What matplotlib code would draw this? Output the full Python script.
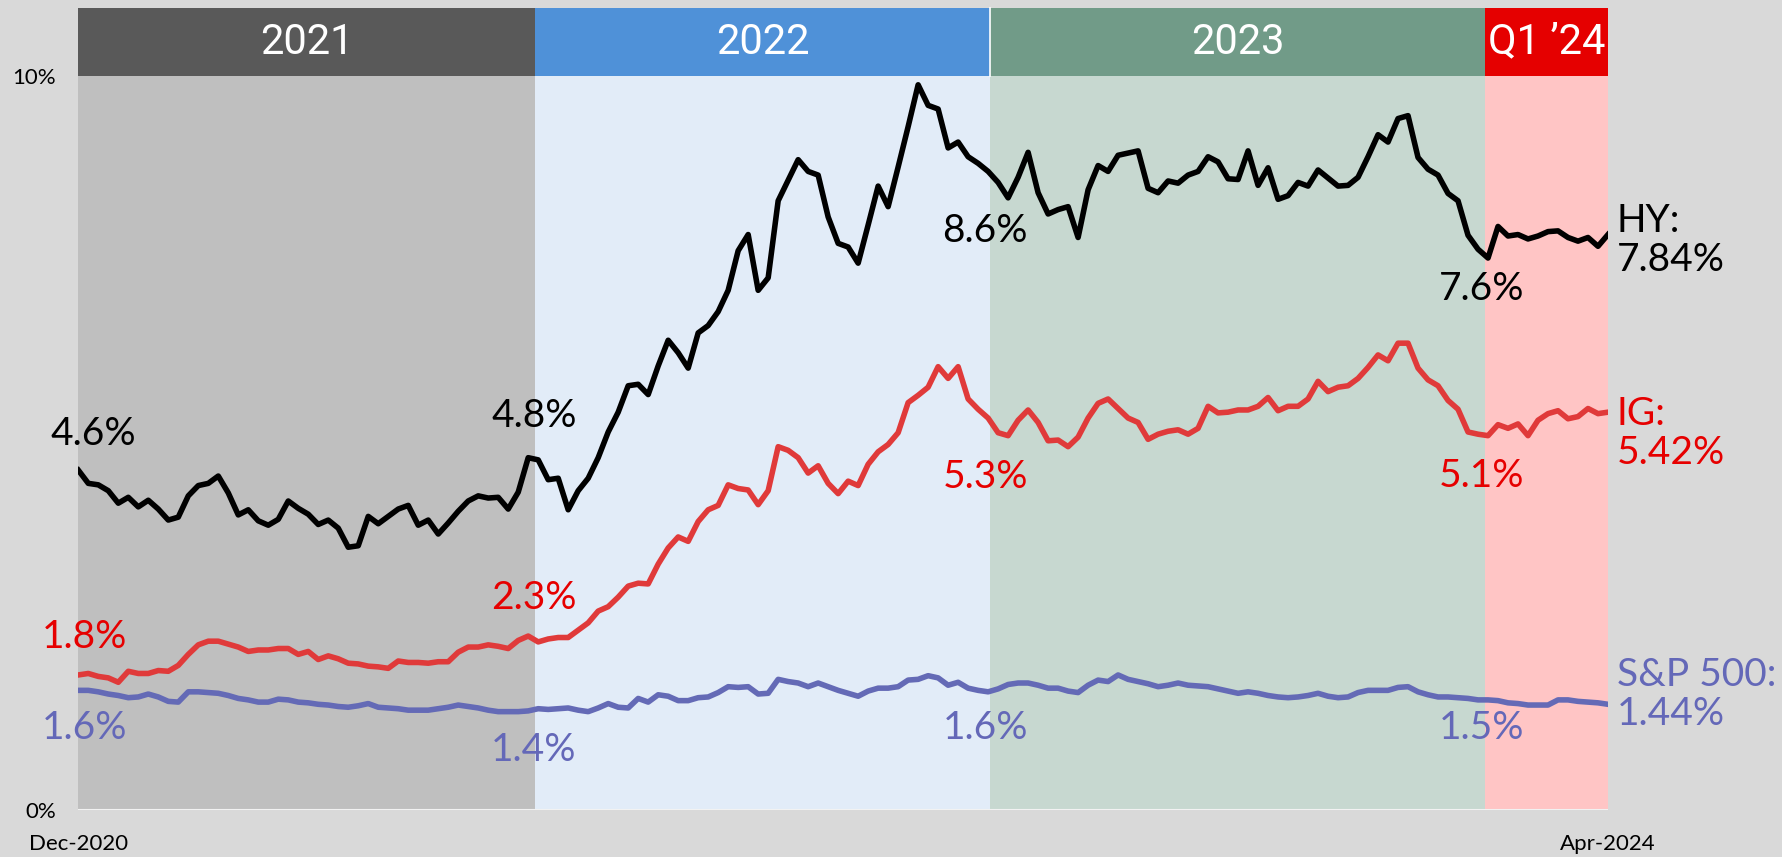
import pandas as pd
import matplotlib
matplotlib.use('Agg')
import matplotlib.pyplot as plt

plt.rcParams['font.family'] = ['Lato', 'DejaVu Sans']

# 주간(약 8일 간격) 데이터: Dec-2020 ~ Apr-2024
dates = pd.date_range('2020-12-31', '2024-04-10', periods=154)

# HY 수익률 (%)
hy = [4.63, 4.45, 4.43, 4.35, 4.18, 4.26, 4.13, 4.22, 4.10, 3.95,
      3.99, 4.28, 4.42, 4.45, 4.55, 4.32, 4.02, 4.09, 3.94, 3.88,
      3.96, 4.21, 4.11, 4.03, 3.89, 3.95, 3.84, 3.58, 3.60, 4.00,
      3.90, 4.00, 4.10, 4.15, 3.88, 3.95, 3.76, 3.91, 4.07, 4.21,
      4.28, 4.25, 4.26, 4.10, 4.33, 4.80, 4.77, 4.50, 4.52, 4.09,
      4.35, 4.52, 4.80, 5.15, 5.42, 5.78, 5.80, 5.66, 6.05, 6.40,
      6.23, 6.02, 6.50, 6.60, 6.79, 7.08, 7.62, 7.84, 7.08, 7.25,
      8.30, 8.58, 8.86, 8.70, 8.65, 8.08, 7.72, 7.67, 7.45, 7.97,
      8.50, 8.22, 8.76, 9.31, 9.88, 9.60, 9.55, 9.02, 9.10, 8.90,
      8.81, 8.70, 8.55, 8.34, 8.62, 8.96, 8.41, 8.12, 8.18, 8.22,
      7.80, 8.45, 8.78, 8.70, 8.92, 8.95, 8.98, 8.47, 8.41, 8.57,
      8.54, 8.65, 8.70, 8.90, 8.83, 8.60, 8.59, 8.98, 8.51, 8.75,
      8.32, 8.37, 8.55, 8.50, 8.72, 8.61, 8.50, 8.51, 8.62, 8.90,
      9.20, 9.10, 9.42, 9.46, 8.89, 8.73, 8.65, 8.40, 8.30, 7.83,
      7.64, 7.52, 7.95, 7.82, 7.84, 7.78, 7.82, 7.88, 7.89, 7.80,
      7.75, 7.80, 7.68, 7.84]

# IG 수익률 (%)
ig = [1.84, 1.86, 1.82, 1.80, 1.74, 1.89, 1.86, 1.86, 1.90, 1.89,
      1.97, 2.12, 2.25, 2.30, 2.30, 2.26, 2.22, 2.16, 2.18, 2.18,
      2.20, 2.20, 2.12, 2.16, 2.05, 2.10, 2.06, 2.00, 1.99, 1.96,
      1.95, 1.93, 2.03, 2.01, 2.01, 2.00, 2.02, 2.02, 2.15, 2.22,
      2.22, 2.25, 2.23, 2.20, 2.31, 2.37, 2.29, 2.33, 2.35, 2.35,
      2.45, 2.55, 2.71, 2.77, 2.90, 3.05, 3.09, 3.08, 3.35, 3.57,
      3.72, 3.66, 3.93, 4.09, 4.15, 4.43, 4.38, 4.36, 4.16, 4.35,
      4.95, 4.90, 4.80, 4.59, 4.69, 4.45, 4.31, 4.48, 4.42, 4.71,
      4.88, 4.98, 5.14, 5.55, 5.65, 5.76, 6.04, 5.88, 6.04, 5.60,
      5.46, 5.34, 5.14, 5.10, 5.31, 5.45, 5.28, 5.03, 5.04, 4.95,
      5.08, 5.34, 5.54, 5.60, 5.47, 5.34, 5.28, 5.05, 5.12, 5.16,
      5.18, 5.12, 5.20, 5.50, 5.41, 5.42, 5.45, 5.45, 5.50, 5.62,
      5.44, 5.50, 5.50, 5.60, 5.84, 5.70, 5.76, 5.78, 5.88, 6.03,
      6.20, 6.12, 6.36, 6.36, 6.02, 5.86, 5.78, 5.58, 5.46, 5.15,
      5.12, 5.10, 5.25, 5.20, 5.26, 5.10, 5.31, 5.40, 5.44, 5.33,
      5.36, 5.47, 5.40, 5.42]

# S&P 500 배당수익률 (%)
sp = [1.63, 1.63, 1.61, 1.58, 1.56, 1.53, 1.54, 1.58, 1.54, 1.48,
      1.47, 1.61, 1.61, 1.60, 1.59, 1.56, 1.52, 1.50, 1.47, 1.47,
      1.51, 1.50, 1.47, 1.46, 1.44, 1.43, 1.41, 1.40, 1.42, 1.45,
      1.40, 1.39, 1.38, 1.36, 1.36, 1.36, 1.38, 1.40, 1.43, 1.41,
      1.39, 1.36, 1.34, 1.34, 1.34, 1.35, 1.38, 1.37, 1.38, 1.39,
      1.36, 1.34, 1.39, 1.45, 1.40, 1.39, 1.52, 1.47, 1.57, 1.55,
      1.49, 1.49, 1.53, 1.54, 1.60, 1.68, 1.67, 1.68, 1.58, 1.59,
      1.78, 1.75, 1.73, 1.68, 1.73, 1.68, 1.63, 1.59, 1.55, 1.62,
      1.66, 1.66, 1.68, 1.77, 1.78, 1.83, 1.80, 1.70, 1.74, 1.66,
      1.63, 1.61, 1.65, 1.71, 1.73, 1.73, 1.70, 1.66, 1.66, 1.62,
      1.60, 1.70, 1.77, 1.75, 1.84, 1.78, 1.75, 1.72, 1.68, 1.70,
      1.73, 1.70, 1.69, 1.68, 1.65, 1.62, 1.59, 1.61, 1.59, 1.56,
      1.54, 1.53, 1.54, 1.56, 1.59, 1.55, 1.53, 1.54, 1.60, 1.63,
      1.63, 1.63, 1.67, 1.68, 1.61, 1.57, 1.54, 1.54, 1.53, 1.52,
      1.50, 1.50, 1.49, 1.46, 1.45, 1.43, 1.43, 1.43, 1.50, 1.50,
      1.48, 1.47, 1.46, 1.44]

# 기간 구분
periods = ['2021', '2022', '2023', 'Q1 \u201924']
period_edges = pd.to_datetime(['2020-12-31', '2021-12-23', '2022-12-14',
                               '2024-01-05', '2024-04-10'])
band_colors = ['#BFBFBF', '#E2ECF8', '#C7D8D0', '#FFC5C5']
header_colors = ['#595959', '#4F91D8', '#719B88', '#E50000']

# 기간 경계의 수익률 표시
hy_marks = ['4.6%', '4.8%', '8.6%', '7.6%']
ig_marks = ['1.8%', '2.3%', '5.3%', '5.1%']
sp_marks = ['1.6%', '1.4%', '1.6%', '1.5%']

end_labels = ['HY:\n7.84%', 'IG:\n5.42%', 'S&P 500:\n1.44%']

BG = '#D9D9D9'
HY_C, IG_C, SP_C = '#000000', '#E03A3A', '#646AB6'
IG_T, SP_T = '#E60000', '#6468B8'

fig = plt.figure(figsize=(17.83, 8.57), dpi=100, facecolor=BG)
ax = fig.add_axes([78.3 / 1783, 47 / 857, 1529.7 / 1783, 734 / 857])
ax.set_facecolor(BG)

for i, name in enumerate(periods):
    a, b = period_edges[i], period_edges[i + 1]
    ax.axvspan(a, b, color=band_colors[i], lw=0, zorder=0)
    hdr = ax.axvspan(a, b, ymin=1.0, ymax=1.0926, color=header_colors[i],
                     lw=0, zorder=0)
    hdr.set_clip_on(False)
    mid = a + (b - a) / 2
    ax.text(mid, 1.046, name, transform=ax.get_xaxis_transform(),
            ha='center', va='center', color='white', fontsize=30,
            family=['Roboto', 'DejaVu Sans'])

# 2022/2023 헤더 사이 흰 구분선
sep = ax.axvline(period_edges[2], ymin=1.0, ymax=1.0926, color='white', lw=1.2)
sep.set_clip_on(False)

ax.axhline(0, color='#F2F2F2', lw=1.5, zorder=1)

ax.plot(dates, sp, color=SP_C, lw=4.0, zorder=3, solid_joinstyle='round')
ax.plot(dates, ig, color=IG_C, lw=4.0, zorder=3, solid_joinstyle='round')
ax.plot(dates, hy, color=HY_C, lw=4.0, zorder=4, solid_joinstyle='round')

ax.set_xlim(dates[0], dates[-1])
ax.set_ylim(0, 10)

# 경계 라벨
hy_y = [5.12, 5.37, 7.89, 7.10]
ig_y = [2.36, 2.89, 4.54, 4.55]
sp_y = [1.12, 0.82, 1.12, 1.12]
dx_hy = [15, -1, -5, -4]
dx_lo = [6, -1, -5, -4]
for i in range(4):
    x = period_edges[i]
    ax.annotate(hy_marks[i], (x, hy_y[i]), xytext=(dx_hy[i], 0),
                textcoords='offset pixels', ha='center', va='center',
                fontsize=28, color=HY_C, zorder=5)
    ax.annotate(ig_marks[i], (x, ig_y[i]), xytext=(dx_lo[i], 0),
                textcoords='offset pixels', ha='center', va='center',
                fontsize=28, color=IG_T, zorder=5)
    ax.annotate(sp_marks[i], (x, sp_y[i]), xytext=(dx_lo[i], 0),
                textcoords='offset pixels', ha='center', va='center',
                fontsize=28, color=SP_T, zorder=5)

# 마지막 값 라벨
end_y = [7.76, 5.13, 1.57]
end_colors = [HY_C, IG_T, SP_T]
for lab, y, c in zip(end_labels, end_y, end_colors):
    ax.annotate(lab, (dates[-1], y), xytext=(9, 0), textcoords='offset pixels',
                ha='left', va='center', fontsize=28, color=c,
                linespacing=1.1, annotation_clip=False)

ax.set_yticks([0, 10])
ax.set_yticklabels(['0%', '10%'])
ax.set_xticks([dates[0], dates[-1]])
ax.set_xticklabels(['Dec-2020', 'Apr-2024'])
ax.tick_params(axis='both', length=0, labelsize=16, colors='black')
ax.tick_params(axis='y', pad=16)
ax.tick_params(axis='x', pad=17)
for s in ax.spines.values():
    s.set_visible(False)

fig.savefig('out.png', dpi=100, facecolor=BG)
